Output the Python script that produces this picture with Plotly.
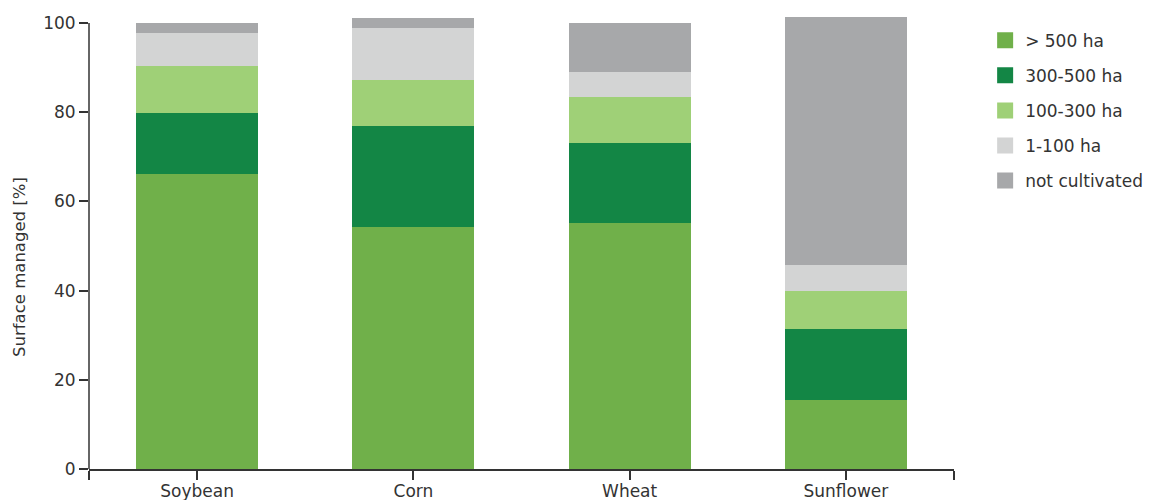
import plotly.graph_objects as go

crops = ["Soybean", "Corn", "Wheat", "Sunflower"]
series_names = ["> 500 ha", "300-500 ha", "100-300 ha", "1-100 ha", "not cultivated"]
v_500 = [66.1, 54.3, 55.2, 15.5]
v_300_500 = [13.7, 22.6, 17.9, 15.9]
v_100_300 = [10.6, 10.3, 10.3, 8.5]
v_1_100 = [7.4, 11.7, 5.6, 5.8]
v_not = [2.2, 2.2, 11.0, 55.6]
colors = ["#70b04a", "#138645", "#9fd077", "#d3d4d4", "#a7a8aa"]
y_ticks = [0, 20, 40, 60, 80, 100]

x_pos = list(range(len(crops)))
series = [v_500, v_300_500, v_100_300, v_1_100, v_not]

fig = go.Figure()
for name, vals, col in zip(series_names, series, colors):
    fig.add_trace(go.Bar(x=x_pos, y=vals, name=name, marker=dict(color=col, line=dict(width=0)),
                         width=0.565, legendgroup=name, showlegend=False))
# legend entries (square swatches)
for name, col in zip(series_names, colors):
    fig.add_trace(go.Scatter(x=[None], y=[None], mode="markers", name=name, legendgroup=name,
                             marker=dict(symbol="square", size=19, color=col, line=dict(width=0)),
                             showlegend=True))

font_family = "DejaVu Sans, sans-serif"
axis_col = "#333333"
fig.update_layout(
    barmode="stack",
    width=1150, height=500,
    margin=dict(l=89, r=196, t=14, b=31, autoexpand=False),
    plot_bgcolor="white", paper_bgcolor="white",
    font=dict(family=font_family, size=17, color="#333333"),
    showlegend=True,
    legend=dict(x=1.036, y=0.981, xanchor="left", yanchor="top", traceorder="grouped",
                tracegroupgap=10, font=dict(size=17, color="#333333")),
    xaxis=dict(range=[-0.5, 3.5], tickmode="array",
               tickvals=[-0.5] + x_pos + [3.5], ticktext=[""] + crops + [""],
               ticks="outside", ticklen=9, tickcolor=axis_col, tickwidth=1.5,
               ticklabelstandoff=-3,
               showline=True, linecolor=axis_col, linewidth=1.5, showgrid=False,
               zeroline=False, tickfont=dict(size=17), automargin=False),
    yaxis=dict(range=[0, 102], tickmode="array", tickvals=y_ticks,
               ticks="outside", ticklen=9, tickcolor=axis_col, tickwidth=1.5,
               showline=False, showgrid=False, zeroline=False, automargin=False,
               tickfont=dict(size=17)),
    shapes=[dict(type="line", xref="paper", x0=0, x1=0, yref="y", y0=0, y1=100,
                 line=dict(color=axis_col, width=1.5))],
    annotations=[dict(text="Surface managed [%]", xref="paper", x=-0.0798, xanchor="center",
                      yref="y", y=45.3, yanchor="middle", textangle=-90, showarrow=False,
                      font=dict(size=16.5, color="#333333"))],
)

fig.write_html("out.html")
